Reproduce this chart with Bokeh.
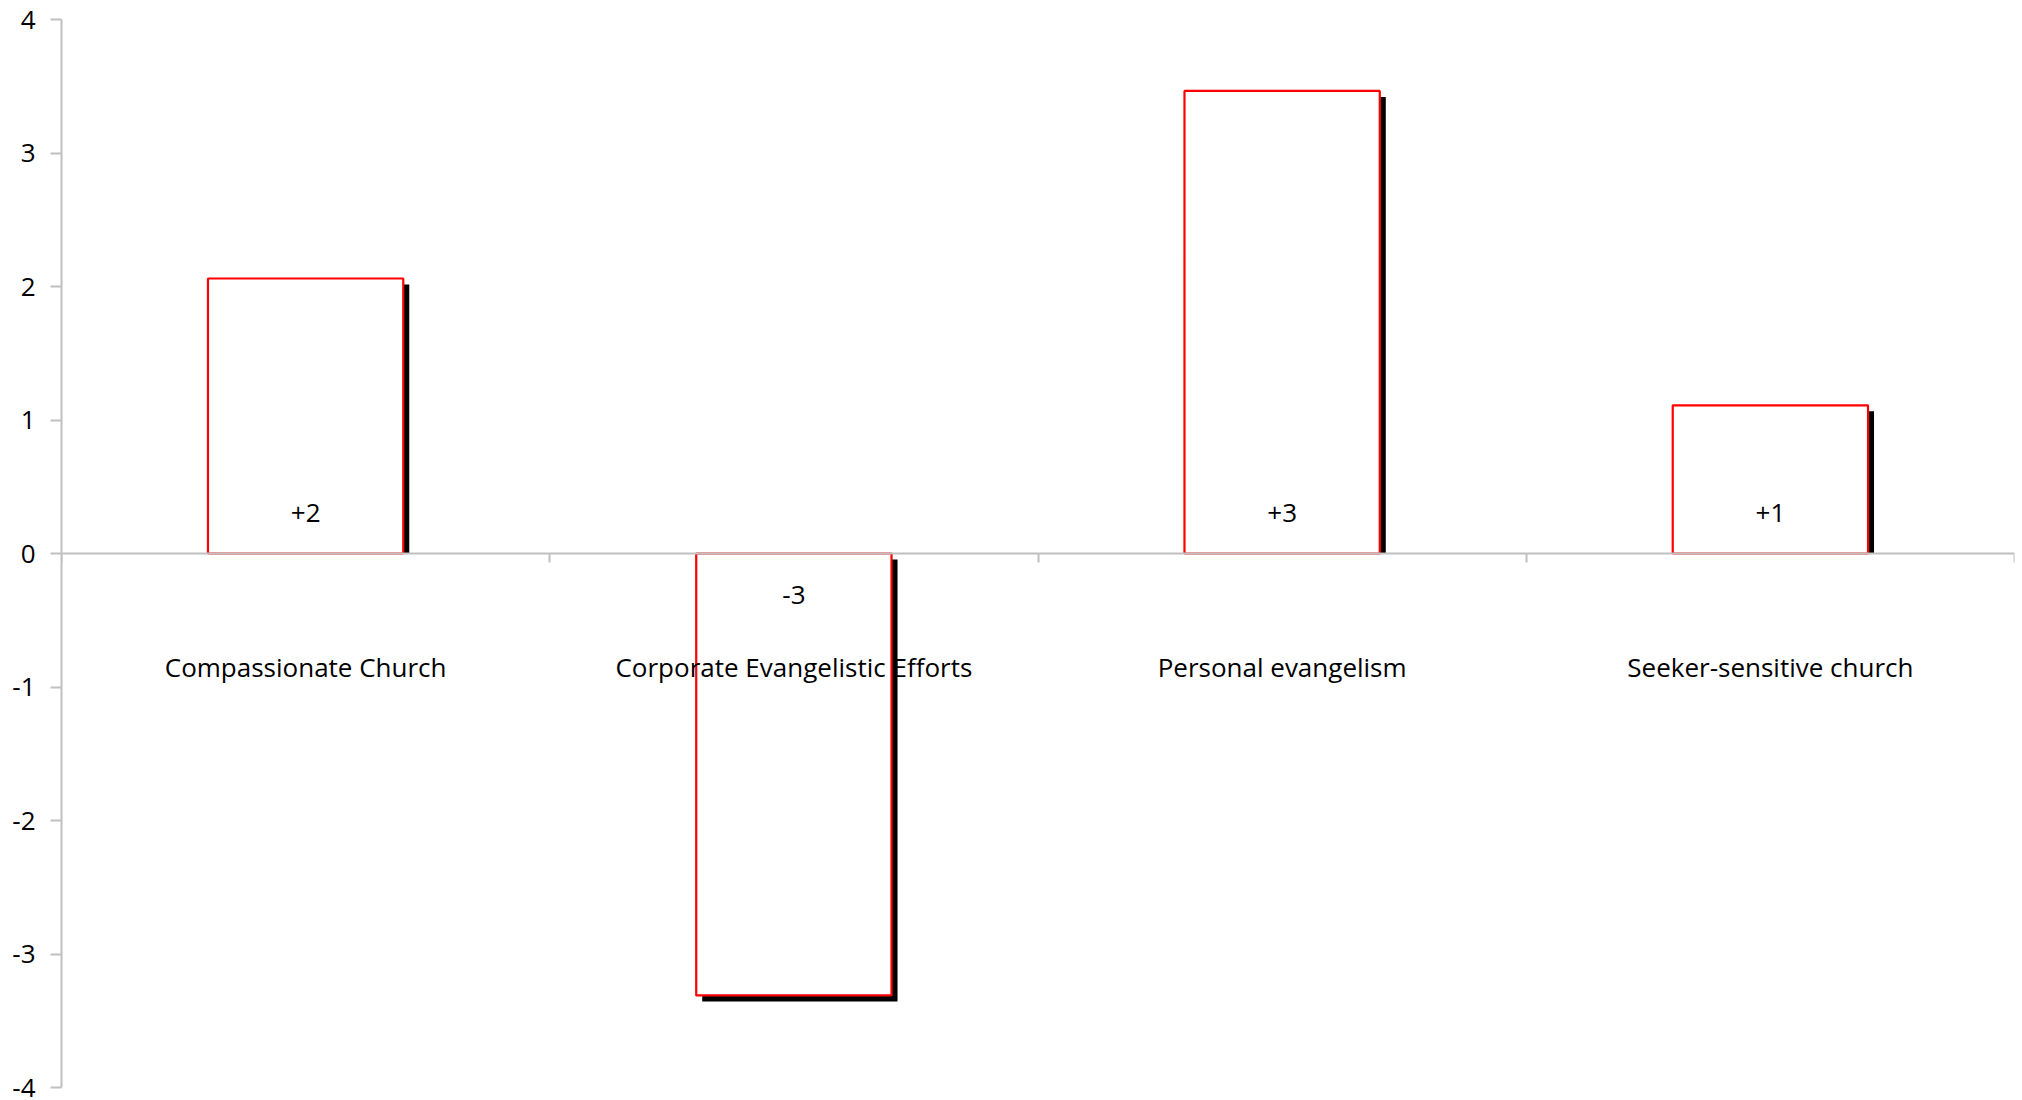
import numpy as np
from bokeh.plotting import figure
from bokeh.models import ColumnDataSource, Range1d, FixedTicker
from bokeh.core.properties import value
from bokeh.embed import file_html
from bokeh.resources import INLINE

categories = ["Compassionate Church", "Corporate Evangelistic Efforts",
              "Personal evangelism", "Seeker-sensitive church"]
scores = [2.06, -3.31, 3.465, 1.11]
score_labels = ["+2", "-3", "+3", "+1"]
y_ticks = [-4, -3, -2, -1, 0, 1, 2, 3, 4]

FONT = "Open Sans"
AXIS_GRAY = "#c0c0c0"

n = len(categories)
W, H = 2018, 1100
BL, BR, BT, BB = 61, 4, 19, 13
frame_w = W - BL - BR
frame_h = H - BT - BB
px_x = n / frame_w          # data units per pixel (x)
px_y = 8.0 / frame_h        # data units per pixel (y)

xs = np.arange(n) + 0.5
vals = np.array(scores)
bar_w = 0.4

# shadow: offset 6px right and 6px down
sh_off_x = 6 * px_x
sh_off_y = 6 * px_y
sh_top = np.where(vals > 0, vals - sh_off_y, -sh_off_y)
sh_bot = np.where(vals > 0, 0.0, vals - sh_off_y)

src = ColumnDataSource(dict(
    x=xs, v=vals, lab=score_labels, cat=categories,
    sl=xs - bar_w / 2 + sh_off_x, sr=xs + bar_w / 2 + sh_off_x,
    st=sh_top, sb=sh_bot,
    zero=np.zeros(n),
    voff=np.where(vals > 0, -41.0, 41.0),
))

p = figure(width=W, height=H, output_backend="svg", toolbar_location=None,
           x_range=Range1d(0, n), y_range=Range1d(-4, 4),
           min_border_left=BL, min_border_right=BR,
           min_border_top=BT, min_border_bottom=BB)
p.outline_line_color = None
p.grid.visible = False
p.background_fill_color = "white"

p.quad(left="sl", right="sr", top="st", bottom="sb", source=src,
       fill_color="black", line_color=None)
p.vbar(x="x", top="v", bottom=0, width=bar_w, source=src,
       fill_color="white", line_color="#ff0000", line_width=2.2)

p.text(x="x", y="zero", text="lab", y_offset="voff", source=src,
       text_font=value(FONT), text_font_size="26px", text_color="#000000",
       text_align="center", text_baseline="middle")
p.text(x="x", y="zero", text="cat", y_offset=113, source=src,
       text_font=value(FONT), text_font_size="26px", text_color="#000000",
       text_align="center", text_baseline="middle")

# x axis at zero with ticks at category boundaries
xa = p.xaxis[0]
xa.fixed_location = 0
xa.ticker = FixedTicker(ticks=list(range(n + 1)))
xa.axis_line_color = AXIS_GRAY
xa.axis_line_width = 2
xa.major_tick_line_color = AXIS_GRAY
xa.major_tick_line_width = 2
xa.major_tick_out = 9
xa.major_tick_in = 0
xa.minor_tick_line_color = None
xa.major_label_overrides = {i: "" for i in range(n + 1)}
xa.major_label_standoff = 0

ya = p.yaxis[0]
ya.ticker = FixedTicker(ticks=y_ticks)
ya.major_label_overrides = {t: str(t) for t in y_ticks}
ya.axis_line_color = AXIS_GRAY
ya.axis_line_width = 2
ya.major_tick_line_color = AXIS_GRAY
ya.major_tick_line_width = 2
ya.major_tick_out = 11
ya.major_tick_in = 0
ya.minor_tick_line_color = None
ya.major_label_standoff = 15
ya.major_label_text_font = FONT
ya.major_label_text_font_size = "26px"
ya.major_label_text_color = "#000000"

open("out.html", "w").write(file_html(p, INLINE))
